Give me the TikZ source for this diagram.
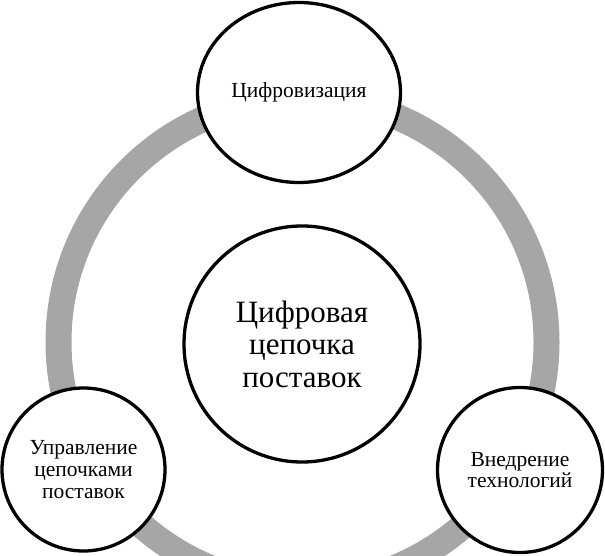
\documentclass[tikz,border=0pt]{standalone}
\usepackage{fontspec}
\setmainfont{Liberation Serif}
\usetikzlibrary{shapes.geometric}
\definecolor{ringgray}{RGB}{166,166,166}
\tikzset{
  bubble/.style={draw=black, line width=3.3pt, fill=white, align=center, inner sep=0pt},
  smalltext/.style={font=\fontsize{21.5}{21.8}\selectfont},
  bigtext/.style={font=\fontsize{31}{32.5}\selectfont},
}
\begin{document}
\begin{tikzpicture}[x=1pt,y=1pt]
\useasboundingbox (0,0) rectangle (605,555);
\coordinate (ringc) at (302.5,213);
\draw[ringgray, line width=26pt] (ringc) circle (244);
\node[bubble, ellipse, minimum width=203pt, minimum height=180pt, smalltext] (top) at (299,462.5) {Цифровизация};
\node[bubble, circle, minimum size=236pt, bigtext] (center) at (302,211) {Цифровая\\цепочка\\поставок};
\node[bubble, circle, minimum size=163pt, smalltext] (left) at (83.5,85.5) {Управление\\цепочками\\поставок};
\node[bubble, circle, minimum size=165pt, smalltext] (right) at (520,85) {Внедрение\\технологий};
\end{tikzpicture}
\end{document}
